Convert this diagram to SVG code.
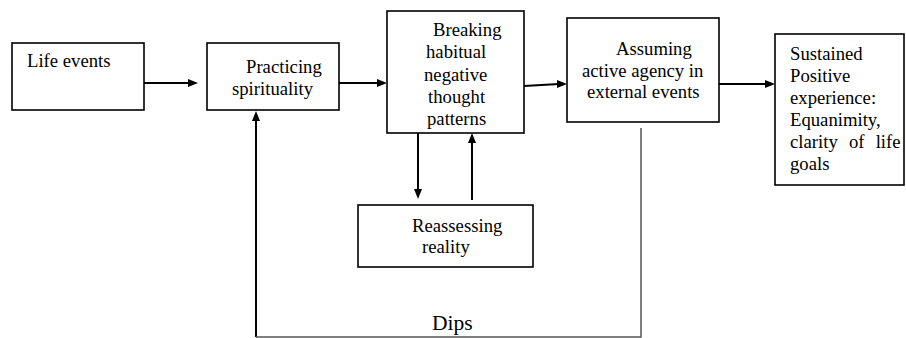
<svg xmlns="http://www.w3.org/2000/svg" width="906" height="338" viewBox="0 0 906 338" font-family="Liberation Serif, serif" font-size="18.7">
<g id="n1"><rect x="12" y="43" width="132" height="67" fill="#fff" stroke="#000" stroke-width="1.6"/><text x="27" y="67">Life events</text></g>
<g id="n2"><rect x="207" y="43" width="132" height="67" fill="#fff" stroke="#000" stroke-width="1.6"/><text x="246" y="73">Practicing</text><text x="232" y="95">spirituality</text></g>
<g id="n3"><rect x="387" y="11" width="137" height="122" fill="#fff" stroke="#000" stroke-width="1.6"/>
<text x="433" y="36">Breaking</text><text x="426" y="58">habitual</text><text x="424" y="81">negative</text><text x="428" y="103">thought</text><text x="427" y="125">patterns</text></g>
<g id="n4"><rect x="567" y="18" width="152" height="104" fill="#fff" stroke="#000" stroke-width="1.6"/><text x="616" y="55">Assuming</text><text x="582" y="77">active agency in</text><text x="587" y="98">external events</text></g>
<g id="n5"><rect x="775" y="34" width="129" height="151" fill="#fff" stroke="#000" stroke-width="1.6"/>
<text x="790" y="60">Sustained</text><text x="790" y="82">Positive</text><text x="790" y="104">experience:</text><text x="790" y="126">Equanimity,</text><text x="790" y="148" word-spacing="6.5">clarity of life</text><text x="790" y="170">goals</text></g>
<g id="n6"><rect x="358" y="205" width="175" height="62" fill="#fff" stroke="#000" stroke-width="1.6"/><text x="412" y="232">Reassessing</text><text x="422" y="253">reality</text></g>
<g id="connectors">
<g fill="none" stroke="#000" stroke-width="2">
<line x1="144" y1="83" x2="190" y2="83"/>
<line x1="339" y1="83" x2="379" y2="83"/>
<line x1="524" y1="86" x2="559" y2="84"/>
<line x1="719" y1="84" x2="767" y2="84"/>
<line x1="418" y1="133" x2="418" y2="191"/>
<line x1="472" y1="200" x2="472" y2="141"/>
<line x1="256" y1="337" x2="256" y2="119"/>
<polyline points="641,128 641,337 256,337" stroke="#555" stroke-width="1.5"/>
</g>
<g fill="#000">
<polygon points="198,83 188,79 188,87"/>
<polygon points="387,83 377,79 377,87"/>
<polygon points="567,84 557,80 557,88"/>
<polygon points="775,84 765,80 765,88"/>
<polygon points="418,199 414,189 422,189"/>
<polygon points="472,133 468,143 476,143"/>
<polygon points="256,111 252,121 260,121"/>
</g>
<text x="432" y="330" font-size="21.5">Dips</text>
</g>
</svg>
